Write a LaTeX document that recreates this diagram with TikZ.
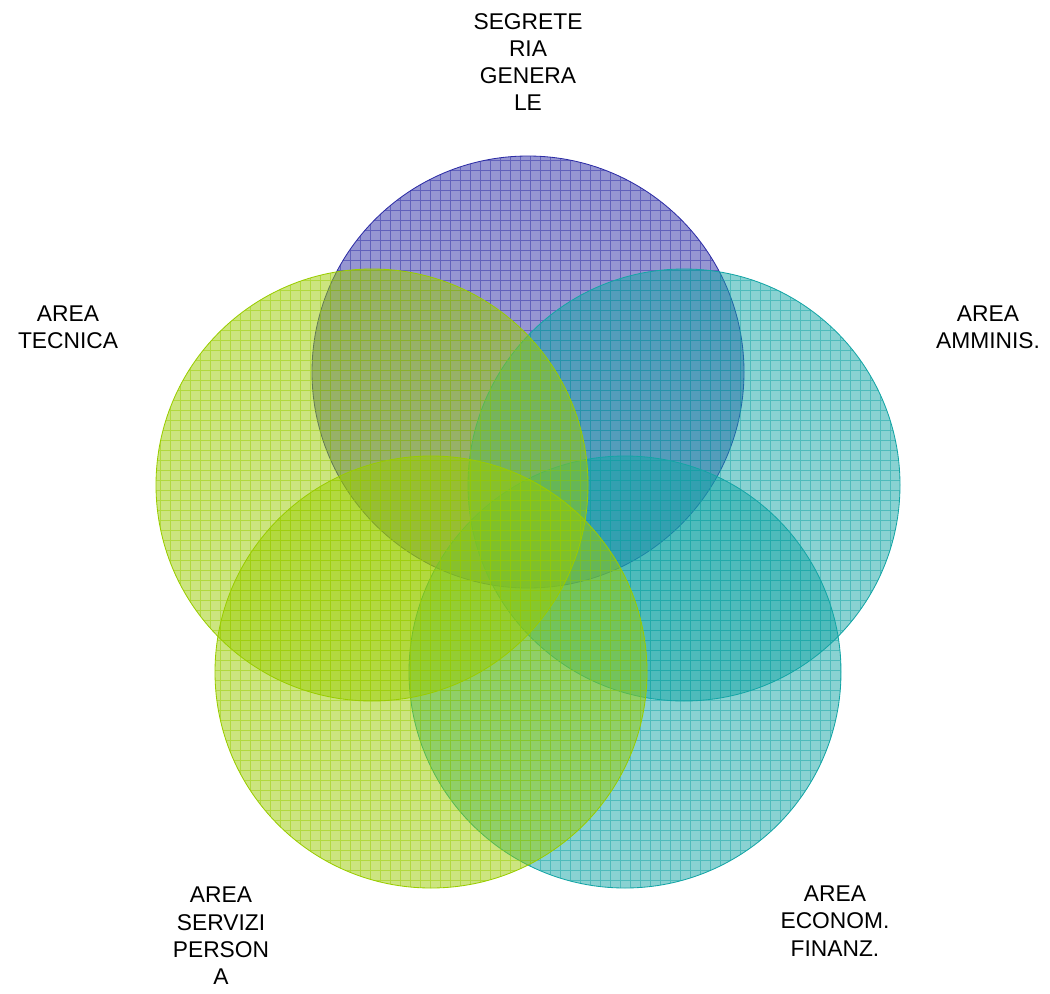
\documentclass[tikz,border=0pt]{standalone}
\usepackage{fontspec}
\setmainfont{Liberation Sans}
\definecolor{segcol}{RGB}{45,45,165}
\definecolor{ammcol}{RGB}{20,165,165}
\definecolor{ecocol}{RGB}{20,165,165}
\definecolor{sercol}{RGB}{153,204,0}
\definecolor{teccol}{RGB}{153,204,0}
%% one hatched circle: centre, colour
\newcommand{\areacircle}[2]{%
	\fill[areafill, fill=#2] (#1) circle (216);
	\begin{scope}
		\clip (#1) circle (216);
		\draw[areagrid, color=#2] (0,0) grid (1050,993);
	\end{scope}
	\draw[arearim, color=#2] (#1) circle (216);
}
\begin{document}
\begin{tikzpicture}%
	[x=0.025cm, y=0.025cm, yscale=-1,
	areafill/.style={fill opacity=0.5},
	areagrid/.style={opacity=0.5, line width=0.7pt, step=10},
	arearim/.style={line width=0.6pt},
	arealabel/.style={align=center, inner sep=0pt, font=\fontsize{16.2}{19.4}\selectfont}]
	%
	\useasboundingbox (0,0) rectangle (1050,993);
	%%
	%% Centres of the circles
	%%
	\coordinate (seg) at (528,372);
	\coordinate (amm) at (684,485);
	\coordinate (eco) at (625,672);
	\coordinate (ser) at (431,672);
	\coordinate (tec) at (372,485);
	%%
	%% Drawing the circles
	%%
	\areacircle{seg}{segcol}
	\areacircle{amm}{ammcol}
	\areacircle{eco}{ecocol}
	\areacircle{ser}{sercol}
	\areacircle{tec}{teccol}
	%%
	%% Labels
	%%
	\node[arealabel] (segtext) at (528,62) {SEGRETE\\RIA\\GENERA\\LE};
	\node[arealabel] (ammtext) at (988,327) {AREA\\AMMINIS.};
	\node[arealabel] (ecotext) at (835,921) {AREA\\ECONOM.\\FINANZ.};
	\node[arealabel] (sertext) at (221,936) {AREA\\SERVIZI\\PERSON\\A};
	\node[arealabel] (tectext) at (68,327) {AREA\\TECNICA};
\end{tikzpicture}
\end{document}
